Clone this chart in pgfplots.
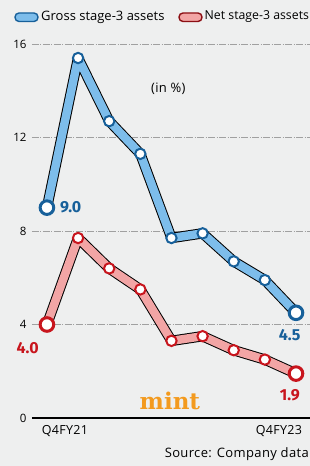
\documentclass[border=0pt]{standalone}
\usepackage{pgfplots}
\pgfplotsset{compat=1.18}
\usepackage{fontspec}
\setmainfont{Open Sans}
\newfontfamily\lblfont[LetterSpace=2.5]{Open Sans}
\newfontfamily\srcfont[LetterSpace=2.8]{Open Sans}
\newfontfamily\logofont{DejaVu Serif}
\newfontfamily\numfont{Fira Sans}
\definecolor{bg}{HTML}{EEEFEF}
\definecolor{gfill}{HTML}{7DBDEB}
\definecolor{gedge}{HTML}{17609A}
\definecolor{nfill}{HTML}{F2A5A5}
\definecolor{nedge}{HTML}{C8151D}
\definecolor{mintc}{HTML}{F39A1E}
\definecolor{gridc}{HTML}{A0A0A0}
\begin{document}
\begin{tikzpicture}
\fill[bg] (-32pt,-48pt) rectangle (278pt,418pt);
\begin{axis}[
  at={(0,0)}, anchor=south west,
  scale only axis, width=278pt, height=374pt,
  xmin=-0.48, xmax=8.45, ymin=0, ymax=16,
  axis line style={draw=none},
  ytick={0,4,8,12,16}, xtick=\empty,
  major tick length=0,
  ymajorgrids,
  grid style={gridc, line width=0.9pt, dash pattern=on 7pt off 1.5pt on 1pt off 1.5pt},
  yticklabel style={font=\fontsize{11.5}{12}\selectfont, anchor=east, xshift=-2pt},
  /pgf/number format/assume math mode=true,
  clip=false,
]
% zero line
\draw[black, line width=1.4pt] (axis cs:-0.48,0) -- (axis cs:8.45,0);
% gross series
\addplot[black, line width=10.4pt, line join=round] coordinates {(0,9.0)(1,15.4)(2,12.7)(3,11.3)(4,7.7)(5,7.9)(6,6.7)(7,5.9)(8,4.5)};
\addplot[gfill, line width=8.4pt, line join=round] coordinates {(0,9.0)(1,15.4)(2,12.7)(3,11.3)(4,7.7)(5,7.9)(6,6.7)(7,5.9)(8,4.5)};
\addplot[only marks, mark=*, mark size=5.2pt, mark options={fill=white, draw=gedge, line width=2pt}] coordinates {(1,15.4)(2,12.7)(3,11.3)(4,7.7)(5,7.9)(6,6.7)(7,5.9)};
\addplot[only marks, mark=*, mark size=6.8pt, mark options={fill=white, draw=gedge, line width=3pt}] coordinates {(0,9.0)(8,4.5)};
% net series
\addplot[black, line width=10.4pt, line join=round] coordinates {(0,4.0)(1,7.7)(2,6.4)(3,5.5)(4,3.3)(5,3.5)(6,2.9)(7,2.5)(8,1.9)};
\addplot[nfill, line width=8.4pt, line join=round] coordinates {(0,4.0)(1,7.7)(2,6.4)(3,5.5)(4,3.3)(5,3.5)(6,2.9)(7,2.5)(8,1.9)};
\addplot[only marks, mark=*, mark size=5.2pt, mark options={fill=white, draw=nedge, line width=2pt}] coordinates {(1,7.7)(2,6.4)(3,5.5)(4,3.3)(5,3.5)(6,2.9)(7,2.5)};
\addplot[only marks, mark=*, mark size=6.8pt, mark options={fill=white, draw=nedge, line width=3pt}] coordinates {(0,4.0)(8,1.9)};
% value labels
\node[gedge, font=\numfont\fontsize{16}{17}\selectfont\bfseries, anchor=west, inner sep=0pt] at (axis cs:0.42,9.0) {9.0};
\node[nedge, font=\numfont\fontsize{16}{17}\selectfont\bfseries] at (axis cs:-0.62,3.0) {4.0};
\node[gedge, font=\numfont\fontsize{16}{17}\selectfont\bfseries] at (axis cs:7.8,3.55) {4.5};
\node[nedge, font=\numfont\fontsize{16}{17}\selectfont\bfseries] at (axis cs:7.8,0.98) {1.9};
\node[font=\lblfont\fontsize{13}{14}\selectfont] at (axis cs:3.9,14.1) {(in \%)};
\node[mintc, font=\logofont\fontsize{23}{24}\selectfont\bfseries] at (axis cs:3.95,0.74) {mint};
% x labels
\node[font=\lblfont\fontsize{12.5}{13}\selectfont, anchor=north west, inner sep=0pt] at (axis cs:-0.17,-0.3) {Q4FY21};
\node[font=\lblfont\fontsize{12.5}{13}\selectfont, anchor=north east, inner sep=0pt] at (axis cs:8.2,-0.3) {Q4FY23};
\end{axis}
% legend
\draw[gedge, fill=gfill, line width=1.4pt, rounded corners=4pt] (-17pt,396.5pt) rectangle (6pt,405pt);
\node[anchor=west, font=\fontsize{13}{14}\selectfont, inner sep=0pt] at (9pt,401pt) {Gross stage-3 assets};
\draw[nedge!70!black, fill=nfill, line width=1.4pt, rounded corners=4pt] (147pt,396.5pt) rectangle (170pt,405pt);
\node[anchor=west, font=\fontsize{12.3}{13}\selectfont, inner sep=0pt] at (172.5pt,401pt) {Net stage-3 assets};
% source
\node[anchor=east, font=\srcfont\fontsize{13}{14}\selectfont, inner sep=0pt] at (277pt,-36pt) {Source: Company data};
\pgfresetboundingbox
\path (-32pt,-48pt) rectangle (278pt,418pt);
\end{tikzpicture}
\end{document}
